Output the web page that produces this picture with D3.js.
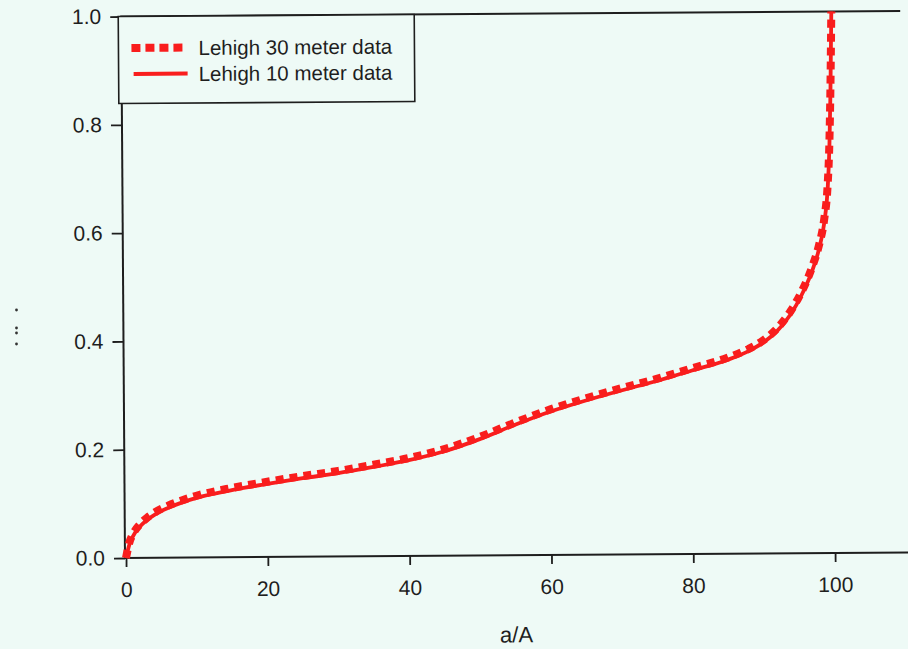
<!DOCTYPE html>
<html>
<head>
<meta charset="utf-8">
<script src="https://cdn.jsdelivr.net/npm/d3@7"></script>
<style>
  html, body { margin: 0; padding: 0; background: #eefaf6; }
  svg { display: block; }
</style>
</head>
<body>
<div id="chart"></div>
<script>
// Cumulative drainage-area fraction (a/A, percent) against normalized value
const areaPercent = [0, 0.5, 1, 2, 3, 4, 6, 8, 10, 15, 20, 25, 30, 35, 40, 45, 50, 55, 60, 65,
  70, 75, 80, 85, 88, 90, 92, 94, 95.5, 97, 98, 98.8, 99.3, 99.6, 99.8, 100];
const lehigh30 = [0, 0.029, 0.044, 0.062, 0.074, 0.083, 0.096, 0.106, 0.114, 0.128, 0.139, 0.149,
  0.158, 0.169, 0.181, 0.197, 0.219, 0.245, 0.269, 0.289, 0.307, 0.324, 0.343, 0.362, 0.378,
  0.393, 0.415, 0.448, 0.482, 0.527, 0.567, 0.617, 0.677, 0.758, 0.858, 1.0];
const lehigh10 = [0, 0.025, 0.040, 0.058, 0.070, 0.079, 0.092, 0.102, 0.110, 0.124, 0.135, 0.145,
  0.154, 0.165, 0.177, 0.193, 0.215, 0.241, 0.265, 0.285, 0.303, 0.320, 0.339, 0.358, 0.374,
  0.389, 0.410, 0.442, 0.476, 0.520, 0.560, 0.610, 0.670, 0.750, 0.850, 1.0];
const seriesNames = ["Lehigh 30 meter data", "Lehigh 10 meter data"];
const xTicks = [0, 20, 40, 60, 80, 100];
const yTicks = [0, 0.2, 0.4, 0.6, 0.8, 1.0];
const xLabel = "a/A";

const W = 908, H = 649;
const red = "#f91d1d", ink = "#1e1e1e", paper = "#eefaf6";

const svg = d3.select("#chart").append("svg")
  .attr("width", W).attr("height", H);

svg.append("rect").attr("width", W).attr("height", H).attr("fill", paper);

// plot frame sits slightly tilted on the page
const origin = { x: 126, y: 558 };
const g = svg.append("g").attr("transform", `rotate(-0.4, ${origin.x}, ${origin.y})`);

const x = d3.scaleLinear().domain([0, 110]).range([origin.x, origin.x + 780]);
const y = d3.scaleLinear().domain([0, 1]).range([origin.y, origin.y - 541.5]);

const font = "'Liberation Sans', Arial, Helvetica, sans-serif";

// axes
const yAxis = d3.axisLeft(y).tickValues(yTicks).tickFormat(d3.format(".1f"))
  .tickSize(11).tickPadding(9);
const xAxis = d3.axisBottom(x).tickValues(xTicks).tickFormat(d3.format("d"))
  .tickSize(9).tickPadding(15);

const gy = g.append("g").attr("transform", `translate(${x(0) - 1},0)`).call(yAxis);
const gx = g.append("g").attr("transform", `translate(0,${y(0)})`).call(xAxis);
[gx, gy].forEach(a => {
  a.select(".domain").remove();
  a.selectAll(".tick line").attr("stroke", ink).attr("stroke-width", 1.8);
  a.selectAll(".tick text").attr("fill", ink).attr("font-family", font).attr("font-size", 21);
});

// frame lines: left, bottom, top
g.append("line").attr("x1", x(0) - 1).attr("x2", x(0) - 1).attr("y1", y(0) + 1).attr("y2", y(1))
  .attr("stroke", ink).attr("stroke-width", 2);
g.append("line").attr("x1", x(0) - 2).attr("x2", x(110) + 4).attr("y1", y(0)).attr("y2", y(0))
  .attr("stroke", ink).attr("stroke-width", 2);
g.append("line").attr("x1", x(0) - 2).attr("x2", x(110) - 2).attr("y1", y(1)).attr("y2", y(1))
  .attr("stroke", ink).attr("stroke-width", 2);

g.append("text")
  .attr("x", 516).attr("y", 645)
  .attr("text-anchor", "middle")
  .attr("font-family", font).attr("font-size", 22).attr("fill", ink)
  .text(xLabel);

// curves: thick square-dotted 30 m series under the solid 10 m series
const line = d3.line().x(d => x(d[0])).y(d => y(d[1])).curve(d3.curveMonotoneX);
const pts30 = areaPercent.map((a, i) => [a, lehigh30[i]]);
const pts10 = areaPercent.map((a, i) => [a, lehigh10[i]]);

g.append("path").datum(pts30).attr("d", line)
  .attr("fill", "none").attr("stroke", red).attr("stroke-width", 8)
  .attr("stroke-dasharray", "8 6");
g.append("path").datum(pts10).attr("d", line)
  .attr("fill", "none").attr("stroke", red).attr("stroke-width", 3.8);

// legend
const lg = g.append("g");
lg.append("rect").attr("x", 122).attr("y", y(1)).attr("width", 296).attr("height", 87)
  .attr("fill", paper).attr("stroke", ink).attr("stroke-width", 1.6);
const rows = [
  { name: seriesNames[0], cy: 48, width: 8, dash: "9 5", x1: 135, x2: 186 },
  { name: seriesNames[1], cy: 74, width: 4, dash: null, x1: 137, x2: 191 }
];
rows.forEach(r => {
  const ln = lg.append("line").attr("x1", r.x1).attr("x2", r.x2).attr("y1", r.cy).attr("y2", r.cy)
    .attr("stroke", red).attr("stroke-width", r.width);
  if (r.dash) ln.attr("stroke-dasharray", r.dash);
  lg.append("text").attr("x", 202).attr("y", r.cy + 7.5)
    .attr("font-family", font).attr("font-size", 20.5).attr("fill", ink)
    .text(r.name);
});

// edge of the cut-off vertical axis title
const marks = [310, 328, 333, 344];
svg.append("g").selectAll("circle").data(marks).join("circle")
  .attr("cx", 16.5).attr("cy", d => d).attr("r", 1.4).attr("fill", "#333");
</script>
</body>
</html>
